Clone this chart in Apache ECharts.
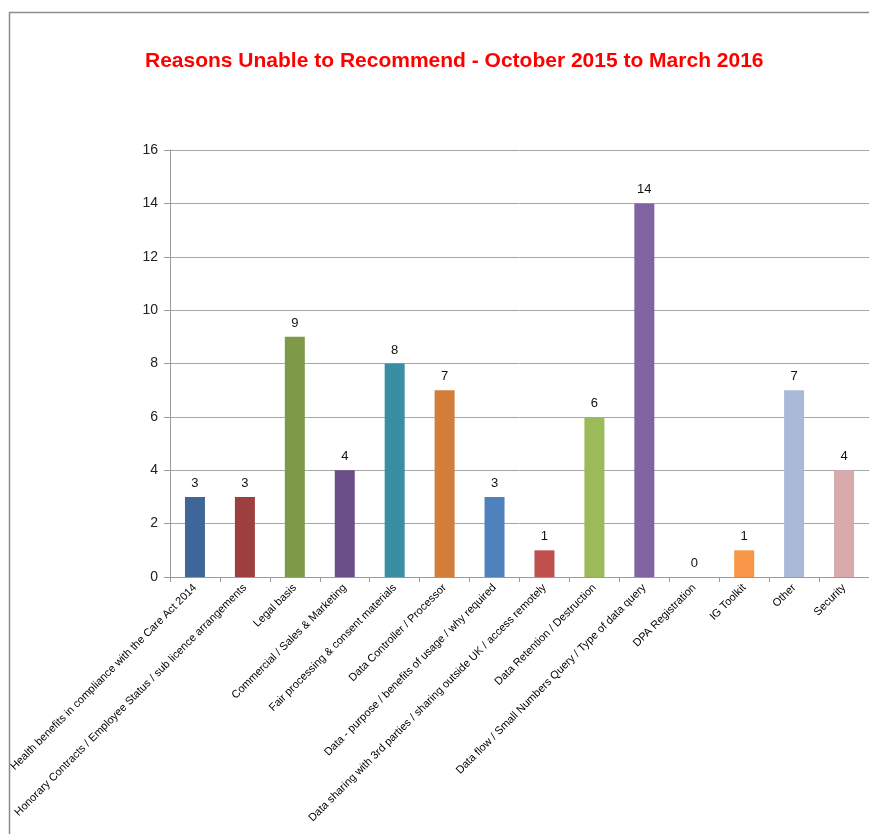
<!DOCTYPE html>
<html><head><meta charset="utf-8">
<script src="https://cdn.jsdelivr.net/npm/echarts@6/dist/echarts.min.js"></script>
<style>html,body{margin:0;padding:0;background:#fff}#c{width:869px;height:834px}</style>
</head><body><div id="c"></div>
<script>
const categories = [
  "Health benefits in compliance with the Care Act 2014",
  "Honorary Contracts / Employee Status / sub licence arrangements",
  "Legal basis",
  "Commercial / Sales & Marketing",
  "Fair processing & consent materials",
  "Data Controller / Processor",
  "Data - purpose / benefits of usage / why required",
  "Data sharing with 3rd parties / sharing outside UK / access remotely",
  "Data Retention / Destruction",
  "Data flow / Small Numbers Query / Type of data query",
  "DPA Registration",
  "IG Toolkit",
  "Other",
  "Security"
];
const values = [3, 3, 9, 4, 8, 7, 3, 1, 6, 14, 0, 1, 7, 4];
const barColors = ["#3E6699","#9D3F3E","#7E9A48","#694E88","#3A8EA3","#D27D3A","#4F81BD","#C0504D","#9BBB59","#8064A2","#4BACC6","#F79646","#AAB9D8","#D9AAAB"];
const yTicks = {min: 0, max: 16, interval: 2};
const titleText = "Reasons Unable to Recommend - October 2015 to March 2016";

const chart = echarts.init(document.getElementById('c'), null, {renderer: 'canvas'});
chart.setOption({
  animation: false,
  backgroundColor: '#fff',
  title: {
    text: titleText, left: 140, top: 46,
    textStyle: {color: '#FF0000', fontFamily: 'Liberation Sans', fontWeight: 'bold', fontSize: 21}
  },
  graphic: [{
    type: 'rect', shape: {x: 9.5, y: 12.5, width: 900, height: 900},
    style: {fill: 'none', stroke: '#8c8c8c', lineWidth: 1.5}, silent: true, z: -1
  }],
  grid: {left: 170, top: 150, width: 706, height: 427, containLabel: false},
  xAxis: {
    type: 'category', data: categories,
    axisLine: {lineStyle: {color: '#9a9a9a'}},
    axisTick: {show: true, alignWithLabel: false, length: 5, lineStyle: {color: '#9a9a9a'}},
    axisLabel: {interval: 0, rotate: 45, fontFamily: 'Liberation Sans', fontSize: 11, color: '#000', margin: 9}
  },
  yAxis: {
    type: 'value', min: yTicks.min, max: yTicks.max, interval: yTicks.interval,
    axisLine: {show: true, lineStyle: {color: '#9a9a9a'}},
    axisTick: {show: true, length: 6, lineStyle: {color: '#9a9a9a'}},
    splitLine: {lineStyle: {color: '#a6a6a6'}},
    axisLabel: {fontFamily: 'Liberation Sans', fontSize: 14, color: '#222', margin: 12}
  },
  series: [{
    type: 'bar', barWidth: 20,
    data: values.map((v, i) => ({value: v, itemStyle: {color: barColors[i]}})),
    label: {show: true, position: 'top', distance: 7, fontFamily: 'Liberation Sans', fontSize: 13, color: '#111'}
  }]
});
</script></body></html>
